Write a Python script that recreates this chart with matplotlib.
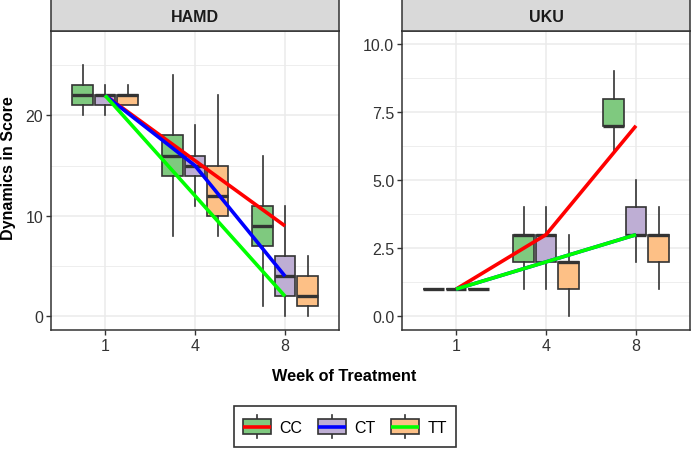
import matplotlib
matplotlib.use("Agg")
import matplotlib.pyplot as plt
from matplotlib.lines import Line2D
from matplotlib.patches import Rectangle
from matplotlib.legend_handler import HandlerBase
from matplotlib.ticker import MultipleLocator

plt.rcParams['font.family'] = ['Liberation Sans', 'DejaVu Sans']

# ---------------- data ----------------
weeks = ["1", "4", "8"]
genotypes = ["CC", "CT", "TT"]
fill_colors = ["#7FC97F", "#BEAED4", "#FDC086"]
line_colors = ["#FF0000", "#0000FF", "#00FF00"]

# HAMD box stats per genotype: lists over weeks (whislo, q1, med, q3, whishi)
hamd_whislo = {"CC": [20, 8, 1], "CT": [20, 11, 0], "TT": [21, 8, 0]}
hamd_q1 = {"CC": [21, 14, 7], "CT": [21, 14, 2], "TT": [21, 10, 1]}
hamd_med = {"CC": [22, 16, 9], "CT": [22, 15, 4], "TT": [22, 12, 2]}
hamd_q3 = {"CC": [23, 18, 11], "CT": [22, 16, 6], "TT": [22, 15, 4]}
hamd_whishi = {"CC": [25, 24, 16], "CT": [23, 19, 11], "TT": [23, 22, 6]}
hamd_mean = {"CC": [22, 15.5, 9], "CT": [22, 15, 4], "TT": [22, 12, 2]}

uku_whislo = {"CC": [1, 1, 6], "CT": [1, 1, 2], "TT": [1, 0, 1]}
uku_q1 = {"CC": [1, 2, 7], "CT": [1, 2, 3], "TT": [1, 1, 2]}
uku_med = {"CC": [1, 3, 7], "CT": [1, 3, 3], "TT": [1, 2, 3]}
uku_q3 = {"CC": [1, 3, 8], "CT": [1, 3, 4], "TT": [1, 2, 3]}
uku_whishi = {"CC": [1, 4, 9], "CT": [1, 4, 5], "TT": [1, 3, 4]}
uku_mean = {"CC": [1, 3, 7], "CT": [1, 2, 3], "TT": [1, 2, 3]}

hamd_yticks = [0, 10, 20]
hamd_yticklabels = ["0", "10", "20"]
uku_yticks = [0, 2.5, 5, 7.5, 10]
uku_yticklabels = ["0.0", "2.5", "5.0", "7.5", "10.0"]

# ---------------- figure ----------------
W, H = 691, 452
fig = plt.figure(figsize=(W / 100, H / 100), dpi=100)

def px_axes(x0, y0, x1, y1):
    return fig.add_axes([x0 / W, 1 - y1 / H, (x1 - x0) / W, (y1 - y0) / H])

DARK = "#333333"
GRID = "#EBEBEB"
TXT = "#333333"

panels = [
    ("HAMD", (51, 32, 339, 331), (-1.36, 28.4), hamd_yticks, hamd_yticklabels, 5,
     hamd_whislo, hamd_q1, hamd_med, hamd_q3, hamd_whishi, hamd_mean),
    ("UKU", (402, 32, 690, 331), (-0.5, 10.48), uku_yticks, uku_yticklabels, 1.25,
     uku_whislo, uku_q1, uku_med, uku_q3, uku_whishi, uku_mean),
]

offsets = [-0.25, 0.0, 0.25]
xpos = list(range(1, len(weeks) + 1))

for (title, (x0, y0, x1, y1), ylim, yt, ytl, minor_step,
     wlo, q1, med, q3, whi, mean) in panels:
    ax = px_axes(x0, y0, x1, y1)
    ax.set_xlim(0.4, 3.6)
    ax.set_ylim(*ylim)
    ax.set_yticks(yt)
    ax.set_yticklabels(ytl)
    ax.yaxis.set_minor_locator(MultipleLocator(minor_step))
    ax.set_xticks(xpos)
    ax.set_xticklabels(weeks)
    ax.grid(True, which="major", color=GRID, lw=1.1, zorder=0)
    ax.grid(True, which="minor", axis="y", color=GRID, lw=0.6, zorder=0)
    ax.tick_params(which="minor", length=0)
    ax.tick_params(which="major", length=3.5, width=1, color=DARK,
                   labelsize=11.5, labelcolor=TXT, pad=2)
    ax.set_axisbelow(True)
    for s in ax.spines.values():
        s.set_color(DARK)
        s.set_linewidth(1.1)

    for gi, g in enumerate(genotypes):
        stats = []
        for wi in range(len(weeks)):
            stats.append(dict(whislo=wlo[g][wi], q1=q1[g][wi], med=med[g][wi],
                              q3=q3[g][wi], whishi=whi[g][wi], fliers=[]))
        ax.bxp(stats, positions=[p + offsets[gi] for p in xpos], widths=0.23,
               showfliers=False, patch_artist=True, manage_ticks=False,
               boxprops=dict(facecolor=fill_colors[gi], edgecolor=DARK, lw=1.2),
               medianprops=dict(color=DARK, lw=2.4, solid_capstyle="butt"),
               whiskerprops=dict(color=DARK, lw=1.2),
               capprops=dict(lw=0), zorder=2)
    for gi, g in enumerate(genotypes):
        ax.plot(xpos, mean[g], color=line_colors[gi], lw=2.6, zorder=3,
                solid_capstyle="butt")

    # strip
    sax = px_axes(x0, 0, x1, y0)
    sax.set_xticks([])
    sax.set_yticks([])
    sax.set_facecolor("#D9D9D9")
    for s in sax.spines.values():
        s.set_color(DARK)
        s.set_linewidth(1.1)
    sax.text(0.5, 0.45, title, transform=sax.transAxes, ha="center", va="center",
             fontsize=11.5, fontweight="bold", color="#1A1A1A")

fig.text(344 / W, 1 - 377 / H, "Week of Treatment", ha="center", va="center",
         fontsize=11.7, fontweight="bold", color="black")
fig.text(9 / W, 1 - 168 / H, "Dynamics in Score", ha="center", va="center",
         rotation=90, fontsize=11.5, fontweight="bold", color="black")


# ---------------- legend ----------------
class BoxKeyHandler(HandlerBase):
    def __init__(self, fill):
        super().__init__()
        self.fill = fill

    def create_artists(self, legend, orig_handle, xdescent, ydescent, width,
                       height, fontsize, trans):
        cx = width / 2 - xdescent
        cy = height / 2 - ydescent
        bh = height * 0.62
        whisk = Line2D([cx, cx], [cy - height * 0.5, cy + height * 0.5],
                       color=DARK, lw=1.2, transform=trans)
        box = Rectangle((-xdescent, cy - bh / 2), width, bh,
                        facecolor=self.fill, edgecolor=DARK, lw=1.2,
                        transform=trans)
        ln = Line2D([-xdescent, width - xdescent], [cy, cy],
                    color=orig_handle.get_color(), lw=2.6, transform=trans,
                    solid_capstyle="butt")
        return [whisk, box, ln]


handles = [Line2D([], [], color=c) for c in line_colors]
hmap = {h: BoxKeyHandler(f) for h, f in zip(handles, fill_colors)}
leg = fig.legend(handles, genotypes, handler_map=hmap, loc="center",
                 bbox_to_anchor=(345 / W, 1 - 427.5 / H), ncol=3,
                 fontsize=11.5, frameon=True, fancybox=False,
                 handlelength=1.75, handleheight=1.9, handletextpad=0.55,
                 columnspacing=0.95, borderpad=0.55, borderaxespad=0)
leg.get_frame().set_edgecolor("black")
leg.get_frame().set_linewidth(1.2)

fig.savefig("out.png", dpi=100)
